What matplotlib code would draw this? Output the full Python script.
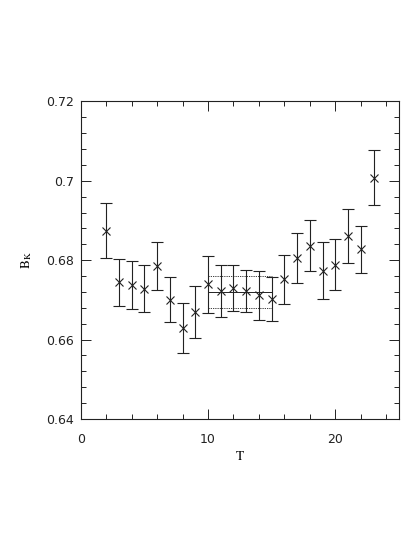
import matplotlib
matplotlib.use("Agg")
import matplotlib.pyplot as plt
from matplotlib.ticker import MultipleLocator, FixedLocator, FixedFormatter

T = [2, 3, 4, 5, 6, 7, 8, 9, 10, 11, 12, 13, 14, 15, 16, 17, 18, 19, 20, 21, 22, 23]
BK = [0.6874, 0.6744, 0.6738, 0.6728, 0.6785, 0.6701, 0.6630, 0.6669, 0.6739, 0.6723,
      0.6730, 0.6722, 0.6712, 0.6703, 0.6752, 0.6806, 0.6836, 0.6774, 0.6789, 0.6861,
      0.6827, 0.7008]
ERR = [0.0069, 0.0060, 0.0060, 0.0059, 0.0061, 0.0057, 0.0063, 0.0066, 0.0072, 0.0066,
       0.0058, 0.0053, 0.0062, 0.0055, 0.0062, 0.0063, 0.0064, 0.0071, 0.0064, 0.0068,
       0.0060, 0.0070]
FIT_RANGE = [10, 15]
FIT_VALUE = 0.6720
FIT_ERR = 0.0040

YTICKS = [0.64, 0.66, 0.68, 0.70, 0.72]
YTICKLABELS = ["0.64", "0.66", "0.68", "0.7", "0.72"]
XTICKS = [0, 10, 20]
XTICKLABELS = ["0", "10", "20"]

plt.rcParams['mathtext.fontset'] = 'stix'

fig = plt.figure(figsize=(4.15, 5.37), dpi=100)
ax = fig.add_axes([0.1945, 0.2197, 0.7669, 0.5915])

col = '#222222'
ax.errorbar(T, BK, yerr=ERR, fmt='x', color=col, ecolor=col, elinewidth=0.8,
            capsize=4.5, capthick=0.8, markersize=5.5, markeredgewidth=0.8)

ax.plot(FIT_RANGE, [FIT_VALUE, FIT_VALUE], color=col, lw=0.7)
ax.plot(FIT_RANGE, [FIT_VALUE + FIT_ERR] * 2, color=col, lw=0.6, ls=(0, (1.5, 1.2)))
ax.plot(FIT_RANGE, [FIT_VALUE - FIT_ERR] * 2, color=col, lw=0.6, ls=(0, (1.5, 1.2)))

ax.set_xlim(0, 25)
ax.set_ylim(0.64, 0.72)

ax.xaxis.set_major_locator(FixedLocator(XTICKS))
ax.xaxis.set_major_formatter(FixedFormatter(XTICKLABELS))
ax.xaxis.set_minor_locator(MultipleLocator(2))
ax.yaxis.set_major_locator(FixedLocator(YTICKS))
ax.yaxis.set_major_formatter(FixedFormatter(YTICKLABELS))
ax.yaxis.set_minor_locator(MultipleLocator(0.004))

ax.tick_params(which='both', direction='in', top=True, right=True, color=col,
               width=0.7, labelsize=9, labelcolor='#222222')
ax.tick_params(which='major', length=7)
ax.tick_params(which='minor', length=3.6)
ax.tick_params(axis='x', which='major', pad=10)
ax.tick_params(axis='y', which='major', pad=5)
for lab in ax.get_xticklabels() + ax.get_yticklabels():
    lab.set_fontfamily('DejaVu Sans')

for s in ax.spines.values():
    s.set_linewidth(0.8)
    s.set_color(col)

ax.set_xlabel(r'$\mathrm{T}$', fontsize=9.5)
ax.set_ylabel(r'$\mathrm{B_K}$', fontsize=9.5)
ax.xaxis.set_label_coords(0.5, -0.0976)
ax.yaxis.set_label_coords(-0.147, 0.5)

fig.savefig('out.png', dpi=100)
